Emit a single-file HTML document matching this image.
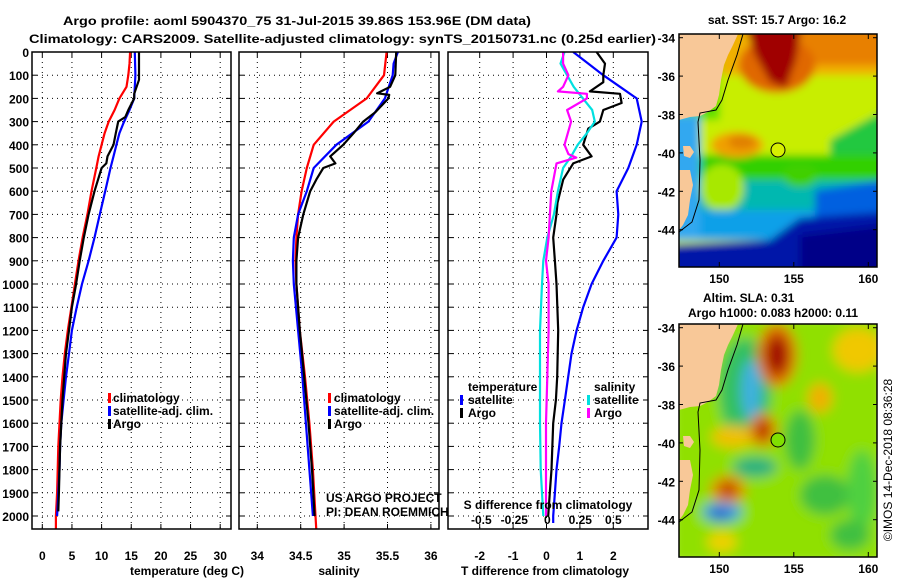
<!DOCTYPE html>
<html><head><meta charset="utf-8"><style>
html,body{margin:0;padding:0;background:#fff;}
svg{display:block;font-family:"Liberation Sans",sans-serif;}
.b{font-weight:bold;font-size:12px;}
</style></head><body>
<svg id="fig" width="900" height="580" viewBox="0 0 900 580">
<defs>
<filter id="blur4" x="-10%" y="-10%" width="120%" height="120%"><feGaussianBlur stdDeviation="4"/></filter>
<filter id="blur6" x="-10%" y="-10%" width="120%" height="120%"><feGaussianBlur stdDeviation="6"/></filter>
<clipPath id="m1clip"><rect x="679" y="34" width="198" height="233"/></clipPath>
<clipPath id="m2clip"><rect x="679" y="324" width="198" height="233"/></clipPath>
<clipPath id="p1clip"><rect x="32" y="52" width="199" height="477"/></clipPath>
<clipPath id="p2clip"><rect x="239" y="52" width="200" height="477"/></clipPath>
<clipPath id="p3clip"><rect x="448" y="52" width="200" height="477"/></clipPath>
</defs>
<text x="63" y="25" class="b" font-size="13" textLength="468" lengthAdjust="spacingAndGlyphs">Argo profile: aoml 5904370_75 31-Jul-2015 39.86S 153.96E (DM data)</text>
<text x="29" y="43" class="b" font-size="13" textLength="627" lengthAdjust="spacingAndGlyphs">Climatology: CARS2009. Satellite-adjusted climatology: synTS_20150731.nc (0.25d earlier)</text>

<!-- SST map -->
<g>
<text x="777" y="24" class="b" text-anchor="middle">sat. SST: 15.7 Argo: 16.2</text>
<g clip-path="url(#m1clip)">
<g filter="url(#blur4)">
<rect x="670" y="25" width="215" height="250" fill="#c8ee00"/>
<rect x="670" y="25" width="215" height="50" fill="#f0b000"/>
<rect x="800" y="25" width="85" height="40" fill="#e88000"/>
<ellipse cx="777" cy="65" rx="38" ry="28" fill="#e06800"/>
<polygon points="745,25 802,25 796,60 786,88 770,82 755,55" fill="#a00000"/>
<rect x="670" y="40" width="50" height="80" fill="#60e000"/>
<polygon points="830,140 885,110 885,185 830,185" fill="#20c840"/>
<rect x="670" y="155" width="215" height="28" fill="#30d000"/>
<rect x="670" y="180" width="215" height="35" fill="#00b8b0"/>
<ellipse cx="722" cy="188" rx="22" ry="24" fill="#a8e800"/>
<ellipse cx="800" cy="175" rx="18" ry="12" fill="#40d000"/>
<rect x="670" y="210" width="215" height="30" fill="#10a0e8"/>
<polygon points="815,190 885,180 885,240 815,240" fill="#0060e0"/>
<polygon points="670,245 770,240 800,218 885,212 885,275 670,275" fill="#0018a8"/>
<polygon points="800,235 885,225 885,275 800,275" fill="#000088"/>
<rect x="670" y="115" width="30" height="125" fill="#30a8f0"/>
<ellipse cx="737" cy="145" rx="26" ry="13" fill="#f0a000"/>
<ellipse cx="742" cy="142" rx="14" ry="7" fill="#e08000"/>
</g>
<g>
<polygon points="679,34 738,34 733,45 728,55 724,65 721,80 719,95 716,106 708,112 700,116 690,117 679,120" fill="#f8c898"/>
<polygon points="683,146 690,146 694,152 690,158 684,156" fill="#f8c898"/>
<polygon points="679,170 690,170 693,185 690,200 688,215 683,225 679,230" fill="#f8c898"/>
<polyline points="743,34 737,55 728,80 722,100 716,110 700,113 698,122 700,160 699,200 692,222 679,232" fill="none" stroke="#000" stroke-width="1"/>
</g>
</g>
<circle cx="778" cy="150" r="7" fill="#d8f000" stroke="#000" stroke-width="1"/>
<rect x="679" y="34" width="198" height="233" fill="none" stroke="#000" stroke-width="1.5"/>
</g>

<!-- SLA map -->
<g>
<text x="703" y="302" class="b">Altim. SLA: 0.31</text>
<text x="688" y="317" class="b">Argo h1000: 0.083 h2000: 0.11</text>
<g clip-path="url(#m2clip)">
<g filter="url(#blur6)">
<rect x="670" y="315" width="215" height="250" fill="#90e000"/>
<ellipse cx="745" cy="390" rx="26" ry="52" fill="#30c060"/>
<ellipse cx="751" cy="390" rx="10" ry="30" fill="#40b0e0"/>
<ellipse cx="777" cy="355" rx="20" ry="32" fill="#e07000"/>
<ellipse cx="777" cy="355" rx="11" ry="20" fill="#a00000"/>
<ellipse cx="858" cy="350" rx="25" ry="22" fill="#f0c800"/>
<ellipse cx="820" cy="398" rx="12" ry="15" fill="#f0b000"/>
<ellipse cx="733" cy="437" rx="22" ry="11" fill="#f0c000"/>
<ellipse cx="763" cy="430" rx="14" ry="17" fill="#e08000"/>
<ellipse cx="763" cy="430" rx="6" ry="10" fill="#b00000"/>
<ellipse cx="755" cy="467" rx="22" ry="10" fill="#20b080"/>
<ellipse cx="800" cy="440" rx="15" ry="30" fill="#40c040"/>
<ellipse cx="825" cy="495" rx="25" ry="20" fill="#40c040"/>
<ellipse cx="862" cy="490" rx="15" ry="40" fill="#50d040"/>
<ellipse cx="728" cy="490" rx="18" ry="15" fill="#e09000"/>
<ellipse cx="728" cy="490" rx="8" ry="8" fill="#c03000"/>
<ellipse cx="722" cy="512" rx="20" ry="10" fill="#30a0e0"/>
<ellipse cx="720" cy="514" rx="10" ry="6" fill="#2060d0"/>
<ellipse cx="722" cy="542" rx="15" ry="10" fill="#f0d000"/>
<ellipse cx="850" cy="535" rx="20" ry="15" fill="#40c040"/>
</g>
<g transform="translate(0,290)">
<polygon points="679,34 738,34 733,45 728,55 724,65 721,80 719,95 716,106 708,112 700,116 690,117 679,120" fill="#f8c898"/>
<polygon points="683,146 690,146 694,152 690,158 684,156" fill="#f8c898"/>
<polygon points="679,170 690,170 693,185 690,200 688,215 683,225 679,230" fill="#f8c898"/>
<polyline points="743,34 737,55 728,80 722,100 716,110 700,113 698,122 700,160 699,200 692,222 679,232" fill="none" stroke="#000" stroke-width="1"/>
</g>
</g>
<circle cx="778" cy="440" r="7" fill="#80e000" stroke="#000" stroke-width="1"/>
<rect x="679" y="324" width="198" height="233" fill="none" stroke="#000" stroke-width="1.5"/>
<text transform="translate(892,460) rotate(-90)" font-size="12" text-anchor="middle">©IMOS 14-Dec-2018 08:36:28</text>
</g>
<g id="dyn"></g>
</svg>
<script>
// ---------- data ----------
const tempClimDepth = [0,50,100,150,200,250,300,350,400,450,500,600,700,800,900,1000,1100,1200,1300,1400,1500,1600,1700,1800,1900,2000,2060];
const tempClim = [14.8,14.7,14.5,14.2,13,12.2,11.2,10.5,10,9.5,9.1,8.3,7.6,6.8,6.1,5.5,4.9,4.3,3.8,3.4,3.1,2.9,2.7,2.6,2.5,2.3,2.3];
const tempSatDepth = [0,100,200,250,300,350,400,450,500,600,700,800,900,1000,1100,1200,1300,1400,1500,1600,1700,1800,1900,2000];
const tempSat = [15.6,15.7,15.5,14.7,13.8,13,12.5,12,11.5,10.6,9.7,8.8,7.8,6.7,5.8,5,4.5,4,3.6,3.2,3,2.9,2.7,2.5];
const tempArgoDepth = [0,50,120,180,200,250,280,300,350,400,450,480,500,600,700,800,900,1000,1100,1200,1300,1400,1500,1600,1700,1800,1900,1980];
const tempArgo = [16.3,16.3,16.3,15.5,15.5,14.5,14,12.8,12.4,12,11,10.8,10,8.8,7.8,7,6.3,5.7,5,4.5,4,3.7,3.4,3.2,3,2.9,2.8,2.7];

const salClimDepth = [0,100,200,300,400,500,600,700,800,900,1000,1200,1400,1600,1800,2000,2060];
const salClim = [35.49,35.46,35.26,34.88,34.65,34.57,34.51,34.47,34.45,34.44,34.45,34.49,34.55,34.6,34.64,34.67,34.68];
const salSatDepth = [0,50,100,200,300,400,500,600,700,800,900,1000,1200,1400,1600,1800,2000];
const salSat = [35.62,35.57,35.56,35.47,35.28,34.91,34.65,34.57,34.47,34.42,34.41,34.42,34.47,34.52,34.56,34.6,34.64];
const salArgoDepth = [0,100,150,178,185,200,260,300,350,400,450,480,500,550,600,700,800,900,1000,1200,1400,1600,1800,2000];
const salArgo = [35.6,35.59,35.53,35.38,35.52,35.51,35.36,35.22,35.11,34.99,34.84,34.9,34.76,34.68,34.61,34.53,34.47,34.45,34.45,34.49,34.54,34.59,34.63,34.66];

const dTSatDepth = [0,50,100,150,200,300,400,500,600,700,800,900,1000,1100,1200,1300,1400,1500,1600,1700,1800,1900,2000,2030];
const dTSat = [0.8,1.25,1.7,2.2,2.7,2.85,2.7,2.45,2.1,2.15,2.1,1.7,1.35,1.1,0.9,0.75,0.65,0.55,0.45,0.38,0.3,0.25,0.2,0.2];
const dTArgoDepth = [0,50,100,130,170,180,220,250,300,330,400,450,480,550,650,700,800,900,1000,1200,1400,1500,1600,1800,1900,2000];
const dTArgo = [1.5,1.75,1.7,1.7,1.3,2.2,2.25,1.7,1.6,1.25,1.1,1.35,0.8,0.5,0.33,0.3,0.2,0.25,0.3,0.35,0.32,0.28,0.2,0.15,0.1,0.05];
const dSSatDepth = [0,50,100,150,200,250,300,350,400,450,500,600,700,800,900,1000,1200,1400,1600,1800,2000];
const dSSat = [0.13,0.1,0.15,0.2,0.27,0.34,0.36,0.3,0.23,0.18,0.12,0.08,0.05,0.0,-0.03,-0.04,-0.055,-0.055,-0.055,-0.05,-0.03];
const dSArgoDepth = [0,50,100,150,170,180,200,250,300,400,440,455,480,600,700,800,900,1000,1200,1400,1600,1800,2000];
const dSArgo = [0.12,0.12,0.16,0.12,0.08,0.3,0.3,0.15,0.18,0.13,0.16,0.22,0.07,0.03,0.02,0.01,-0.01,0.01,0.01,0.0,-0.01,-0.01,-0.01];

const depthTicks = [0,100,200,300,400,500,600,700,800,900,1000,1100,1200,1300,1400,1500,1600,1700,1800,1900,2000];
const tempTicks = [0,5,10,15,20,25,30];
const salTicks = [34,34.5,35,35.5,36];
const salTickLabels = ['34','34.5','35','35.5','36'];
const dTTicks = [-2,-1,0,1,2];
const dSTicks = [-0.5,-0.25,0,0.25,0.5];
const dSTickLabels = ['-0.5','-0.25','0','0.25','0.5'];

// ---------- scales ----------
const TOP=52, BOT=529;
const y = d => 52 + d*0.232;
const xT = v => 42.3 + v*5.93;
const xS = v => 257.3 + (v-34)*86.8;
const xdT = v => 546.5 + v*33.4;
const xdS = v => 547.3 + v*132;

const NS='http://www.w3.org/2000/svg';
const root=document.getElementById('dyn');
function mk(tag, attrs, parent){const e=document.createElementNS(NS,tag);for(const k in attrs)e.setAttribute(k,attrs[k]);(parent||root).appendChild(e);return e;}

function panel(name,x0,x1,xticks,xfn,labels,clip){
  const g=mk('g',{});
  
  
  xticks.forEach((t,i)=>{
    const l=mk('line',{x1:xfn(t),x2:xfn(t),y1:TOP,y2:BOT,stroke:'#000','stroke-width':1,'stroke-dasharray':'1,4'},g);
    
    
    if(labels){
      const tx=mk('text',{x:xfn(t),y:560,'text-anchor':'middle','class':'b'},g);
      tx.textContent=labels[i];
      
      
    }
    mk('line',{x1:xfn(t),x2:xfn(t),y1:BOT,y2:BOT-5,stroke:'#000'},g);
    mk('line',{x1:xfn(t),x2:xfn(t),y1:TOP,y2:TOP+5,stroke:'#000'},g);
  });
  depthTicks.forEach(d=>{
    const l=mk('line',{x1:x0,x2:x1,y1:y(d),y2:y(d),stroke:'#000','stroke-width':1,'stroke-dasharray':'1,4'},g);
    
    
    mk('line',{x1:x0,x2:x0+5,y1:y(d),y2:y(d),stroke:'#000'},g);
    mk('line',{x1:x1,x2:x1-5,y1:y(d),y2:y(d),stroke:'#000'},g);
  });
  return g;
}
function series(g,depths,vals,xfn,color,name,clip){
  const pts=depths.map((d,i)=>xfn(vals[i]).toFixed(1)+','+y(d).toFixed(1)).join(' ');
  const p=mk('polyline',{points:pts,fill:'none',stroke:color,'stroke-width':2.2,'stroke-linejoin':'round','clip-path':'url(#'+clip+')'},g);
  
  
}
function border(g,x0,x1){mk('rect',{x:x0,y:TOP,width:x1-x0,height:BOT-TOP,fill:'none',stroke:'#000','stroke-width':1.5},g);}
function txt(g,x,yy,s,name,cls,anchor){
  const t=mk('text',{x:x,y:yy,'class':cls||'b','text-anchor':anchor||'start'},g);
  t.textContent=s;
  
  
  return t;
}
function mark(g,x,yy,color){mk('rect',{x:x,y:yy-9,width:3,height:10,fill:color},g);}

// Panel 1: temperature
const g1=panel('temperature',32,231,tempTicks,xT,tempTicks.map(String),'p1clip');
depthTicks.forEach(d=>{
  const t=txt(g1,29,y(d)+5,String(d),'y-tick-label','b','end');
});
series(g1,tempClimDepth,tempClim,xT,'#ff0000','temp-climatology-line','p1clip');
series(g1,tempSatDepth,tempSat,xT,'#0000ff','temp-satellite-line','p1clip');
series(g1,tempArgoDepth,tempArgo,xT,'#000000','temp-argo-line','p1clip');
border(g1,32,231);
txt(g1,130,575,'temperature (deg C)','x-axis-title');
mark(g1,108,402,'#ff0000');txt(g1,113,402,'climatology','legend-climatology');
mark(g1,108,415,'#0000ff');txt(g1,113,415,'satellite-adj. clim.','legend-satellite');
mark(g1,108,428,'#000');txt(g1,113,428,'Argo','legend-argo');

// Panel 2: salinity
const g2=panel('salinity',239,439,salTicks,xS,salTickLabels,'p2clip');
series(g2,salClimDepth,salClim,xS,'#ff0000','sal-climatology-line','p2clip');
series(g2,salSatDepth,salSat,xS,'#0000ff','sal-satellite-line','p2clip');
series(g2,salArgoDepth,salArgo,xS,'#000000','sal-argo-line','p2clip');
border(g2,239,439);
txt(g2,339,575,'salinity','x-axis-title','b','middle');
mark(g2,328,402,'#ff0000');txt(g2,334,402,'climatology','legend-climatology');
mark(g2,328,415,'#0000ff');txt(g2,334,415,'satellite-adj. clim.','legend-satellite');
mark(g2,328,428,'#000');txt(g2,334,428,'Argo','legend-argo');
const c1=txt(g2,326,502,'US ARGO PROJECT','credit-project','');c1.setAttribute('font-size','12');
const c2=txt(g2,326,516,'PI: DEAN ROEMMICH','credit-pi','');c2.setAttribute('font-size','12');

// Panel 3: differences
const g3=panel('difference',448,648,dTTicks,xdT,dTTicks.map(String),'p3clip');
series(g3,dTSatDepth,dTSat,xdT,'#0000ff','dt-satellite-line','p3clip');
series(g3,dTArgoDepth,dTArgo,xdT,'#000000','dt-argo-line','p3clip');
series(g3,dSSatDepth,dSSat,xdS,'#00e0e0','ds-satellite-line','p3clip');
series(g3,dSArgoDepth,dSArgo,xdS,'#ff00ff','ds-argo-line','p3clip');
border(g3,448,648);
dSTicks.forEach((t,i)=>{ txt(g3,xdS(t),524,dSTickLabels[i],'s-tick-label','b','middle'); });
txt(g3,548,509,'S difference from climatology','s-axis-title','b','middle');
txt(g3,545,575,'T difference from climatology','x-axis-title','b','middle');
txt(g3,468,391,'temperature','legend-temperature-heading');
mark(g3,460,404,'#0000ff');txt(g3,468,404,'satellite','legend-t-satellite');
mark(g3,460,417,'#000');txt(g3,468,417,'Argo','legend-t-argo');
txt(g3,594,391,'salinity','legend-salinity-heading');
mark(g3,587,404,'#00e0e0');txt(g3,594,404,'satellite','legend-s-satellite');
mark(g3,587,417,'#ff00ff');txt(g3,594,417,'Argo','legend-s-argo');

// Map axes
const latTicks=[-34,-36,-38,-40,-42,-44];
const lonTicks=[150,155,160];
const mx = lon => 719.3 + (lon-150)*14.9;
const my = lat => 37.7 + (-34-lat)*19.2;
[0,290].forEach((off,mi)=>{
  const g=mk('g',{});
  
  
  latTicks.forEach(l=>{
    txt(g,675,my(l)+off+5,String(l),'map-lat-label','b','end');
    mk('line',{x1:679,x2:683,y1:my(l)+off,y2:my(l)+off,stroke:'#000'},g);
    mk('line',{x1:877,x2:873,y1:my(l)+off,y2:my(l)+off,stroke:'#000'},g);
  });
  lonTicks.forEach(l=>{
    txt(g,mx(l),off+283,String(l),'map-lon-label','b','middle');
    mk('line',{x1:mx(l),x2:mx(l),y1:off+267,y2:off+262,stroke:'#000'},g);
    mk('line',{x1:mx(l),x2:mx(l),y1:off+34,y2:off+39,stroke:'#000'},g);
  });
});
</script>
</body></html>
